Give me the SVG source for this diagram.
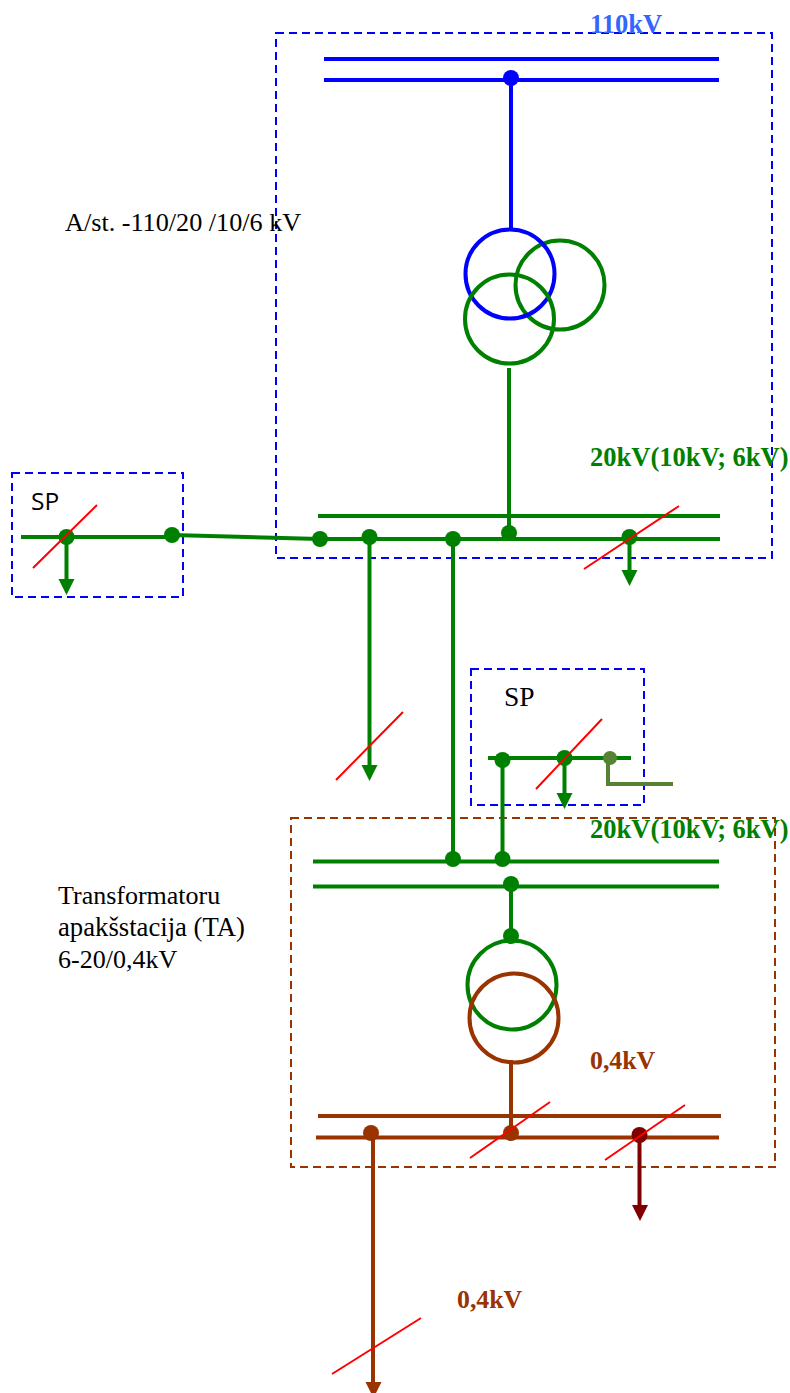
<svg xmlns="http://www.w3.org/2000/svg" width="790" height="1393" viewBox="0 0 790 1393">
<style>
.l{fill:none;stroke-width:4}
.b{stroke:#0000ff}.g{stroke:#008000}.br{stroke:#993300}.dr{stroke:#800000}.ol{stroke:#568234}
.r{stroke:#ff0000;stroke-width:2;fill:none}
.fb{fill:#0000ff}.fg{fill:#008000}.fbr{fill:#993300}.fdr{fill:#800000}.fol{fill:#568234}
.box{fill:none;stroke-width:2;stroke-dasharray:8 5}
.c{fill:none;stroke-width:4}
text{font-family:"Liberation Serif","Times New Roman",serif;font-size:26px;fill:#000}
.v{font-weight:bold;font-size:26.5px}
.s{font-weight:bold;font-size:25.800px;fill:#993300}
</style>
<rect width="790" height="1393" fill="#fff"/>
<g id="box-110">
<rect class="box b" x="276" y="33" width="496" height="525"/>
</g>
<g id="box-sp1">
<rect class="box b" x="12" y="473" width="171" height="124"/>
</g>
<g id="box-sp2">
<rect class="box b" x="471" y="669" width="173" height="136"/>
</g>
<g id="box-ta">
<rect class="box br" x="291" y="818" width="484" height="349"/>
</g>
<g id="connectors">
<path class="l b" d="M324 59H719M324 80H719M511 78V230"/>
<path class="l g" d="M509 368V533M318 516H720M320 539H720M21 537H172M172 535L320 539"/>
<path class="l g" d="M66.500 537V582M629.500 537V573M369.500 537V768M453 539V859M502.500 760V859"/>
<path class="l g" d="M488 758H631M564.500 758V794"/>
<path class="l ol" d="M608 758V784H673"/>
<path class="l g" d="M313 861.500H719M313 886.500H719M511 884V936"/>
<path class="l br" d="M511 1060V1135M318 1116H721M316 1137.500H719M373 1133V1385"/>
<path class="l dr" d="M639.500 1135V1207"/>
<polygon class="fg" points="58.500,579 74.500,579 66.500,595"/>
<polygon class="fg" points="621.500,570 637.500,570 629.500,586"/>
<polygon class="fg" points="361.500,765 377.500,765 369.500,781"/>
<polygon class="fg" points="556.500,793 572.500,793 564.500,809"/>
<polygon class="fdr" points="632,1205 648,1205 640,1221"/>
<polygon class="fbr" points="365.500,1382 381.500,1382 373.500,1398"/>
</g>
<g id="junctions">
<circle class="fb" cx="511" cy="78" r="8"/>
<circle class="fg" cx="66.500" cy="537" r="8"/>
<circle class="fg" cx="172" cy="535" r="8"/>
<circle class="fg" cx="320" cy="539" r="8"/>
<circle class="fg" cx="369.500" cy="537" r="8"/>
<circle class="fg" cx="453" cy="539" r="8"/>
<circle class="fg" cx="509" cy="533" r="8"/>
<circle class="fg" cx="629.500" cy="537" r="8"/>
<circle class="fg" cx="502.500" cy="760" r="8"/>
<circle class="fg" cx="564.500" cy="758" r="8"/>
<circle class="fol" cx="610" cy="758" r="7"/>
<circle class="fg" cx="453" cy="859" r="8"/>
<circle class="fg" cx="502.500" cy="859" r="8"/>
<circle class="fg" cx="511" cy="884" r="8"/>
<circle class="fg" cx="511" cy="936" r="8"/>
<circle class="fbr" cx="371" cy="1133" r="8"/>
<circle class="fbr" cx="511" cy="1133" r="8"/>
<circle class="fdr" cx="639.500" cy="1135" r="8"/>
</g>
<g id="slashes">
<path class="r" d="M33 568L97 505M584 569L679 506M336 780L403 712M536 789L602 719M470 1158L550 1102M605 1160L685 1105M332 1374L421 1318"/>
</g>
<g id="transformer-110">
<circle class="c g" cx="560" cy="285" r="44.500"/>
<circle class="c b" cx="510" cy="274" r="44.500"/>
<circle class="c g" cx="509.500" cy="319" r="44.500"/>
</g>
<g id="transformer-ta">
<circle class="c g" cx="512" cy="985" r="44.500"/>
<circle class="c br" cx="514" cy="1018" r="44.500"/>
</g>
<g id="labels">
<text class="v" x="590" y="33" style="fill:#3366ff">110kV</text>
<text x="65" y="231" style="font-size:26.200px">A/st. -110/20 /10/6 kV</text>
<text class="v" x="590" y="466" style="fill:#008000">20kV(10kV; 6kV)</text>
<text x="31" y="510" style="font-family:'Open Sans','Noto Sans',sans-serif;font-size:24.500px">SP</text>
<text x="504" y="706" style="font-size:27.500px">SP</text>
<text class="v" x="590" y="838" style="fill:#008000">20kV(10kV; 6kV)</text>
<text x="58" y="904">Transformatoru</text>
<text x="58" y="936" style="font-size:26.700px">apakšstacija (TA)</text>
<text x="58" y="968">6-20/0,4kV</text>
<text class="s" x="590" y="1069">0,4kV</text>
<text class="s" x="457" y="1308">0,4kV</text>
</g>
</svg>
